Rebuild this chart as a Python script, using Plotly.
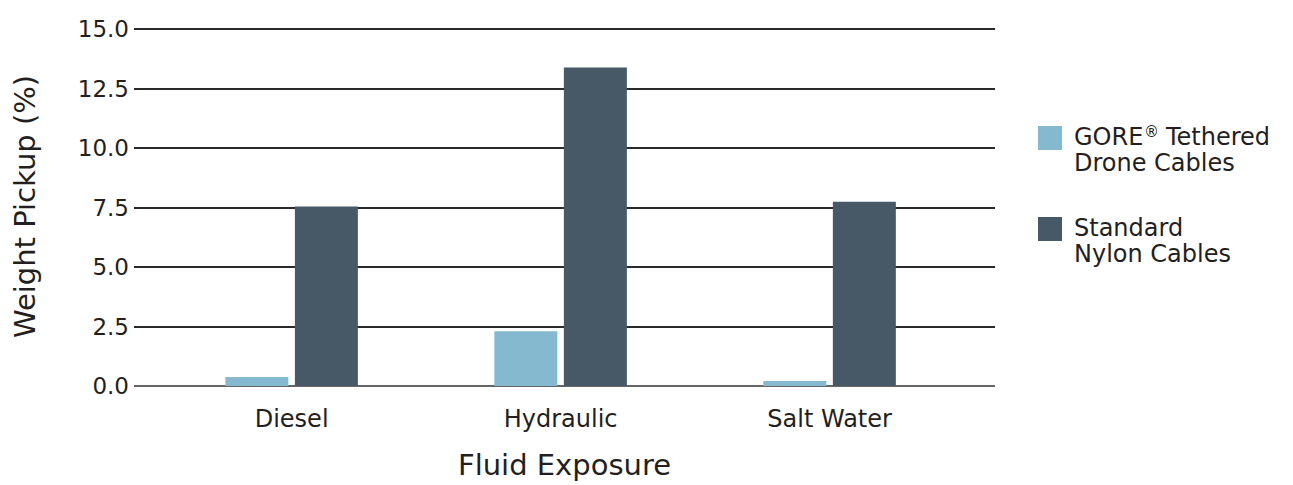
import plotly.graph_objects as go

categories = ["Diesel", "Hydraulic", "Salt Water"]
series_lines = [["GORE® Tethered", "Drone Cables"], ["Standard", "Nylon Cables"]]
gore_values = [0.38, 2.3, 0.21]
nylon_values = [7.55, 13.4, 7.75]
y_ticks = [0, 2.5, 5, 7.5, 10, 12.5, 15]
colors = ["#84b9cf", "#475967"]

FONT = "DejaVu Sans"
TXT = "#231f20"

fig = go.Figure()
for lines, vals, col in zip(series_lines, [gore_values, nylon_values], colors):
    fig.add_trace(go.Bar(x=categories, y=vals, name=" ".join(lines),
                         marker=dict(color=col, line=dict(width=0)), showlegend=False))

# page has an 8px body margin; figure pixels = page pixels - OFF
OFF = 8
W, H = 1293, 485
ml = 134 - OFF
mr = W - (995 - OFF)
mt = 27 - OFF
mb = H - (386 - OFF)

fig.update_layout(
    width=W, height=H,
    margin=dict(l=ml, r=mr, t=mt, b=mb, autoexpand=False),
    plot_bgcolor="white", paper_bgcolor="white",
    barmode="group", bargap=0.483, bargroupgap=0.094,
    font=dict(family=FONT, color=TXT, size=22),
    xaxis=dict(range=[-0.586, 2.615], showgrid=False, zeroline=False, showline=False,
               automargin=False,
               ticks="", tickfont=dict(size=24, color=TXT), ticklabelstandoff=16,
               title=dict(text="Fluid Exposure", font=dict(size=29, color=TXT), standoff=22)),
    yaxis=dict(range=[0, 15.1], tickvals=y_ticks, tickformat=".1f", automargin=False,
               showgrid=True, gridcolor="#2a2a2a", gridwidth=1.5,
               zeroline=True, zerolinecolor="#666666", zerolinewidth=2,
               ticks="", tickfont=dict(size=23, color=TXT), ticklabelstandoff=4,
               title=dict(text="Weight Pickup (%)", font=dict(size=29, color=TXT), standoff=36)),
)

# custom legend (squares + two-line labels), positions given in page pixels
def px_x(x):
    return (x - OFF - ml) / (W - ml - mr)

def px_y(y):
    return 1 - (y - OFF - mt) / (H - mt - mb)

def add_text(text, x, y_bottom, size):
    fig.add_annotation(xref="paper", yref="paper", x=px_x(x), y=px_y(y_bottom),
                       text=text, showarrow=False, xanchor="left", yanchor="bottom",
                       borderpad=0, font=dict(size=size, color=TXT, family=FONT))

TEXT_X = 1073
legend_tops = [126, 217]
for lines, col, top in zip(series_lines, colors, legend_tops):
    fig.add_shape(type="rect", xref="paper", yref="paper",
                  x0=px_x(1038), x1=px_x(1062), y0=px_y(top + 24), y1=px_y(top),
                  fillcolor=col, line=dict(width=0))
    for i, line in enumerate(lines):
        y_bottom = top + 12 + 26 * i + 14
        if "®" in line:
            # draw the registered mark as a small raised text, like a superscript
            head, tail = line.split("®")
            add_text(head, TEXT_X, y_bottom, 24)
            x_mark = TEXT_X + 2.889 * 24 + 1
            add_text("®", x_mark, y_bottom - 10, 15)
            add_text(tail.strip(), x_mark + 0.838 * 15 + 0.318 * 24, y_bottom, 24)
        else:
            add_text(line, TEXT_X, y_bottom, 24)

fig.write_html("out.html")
